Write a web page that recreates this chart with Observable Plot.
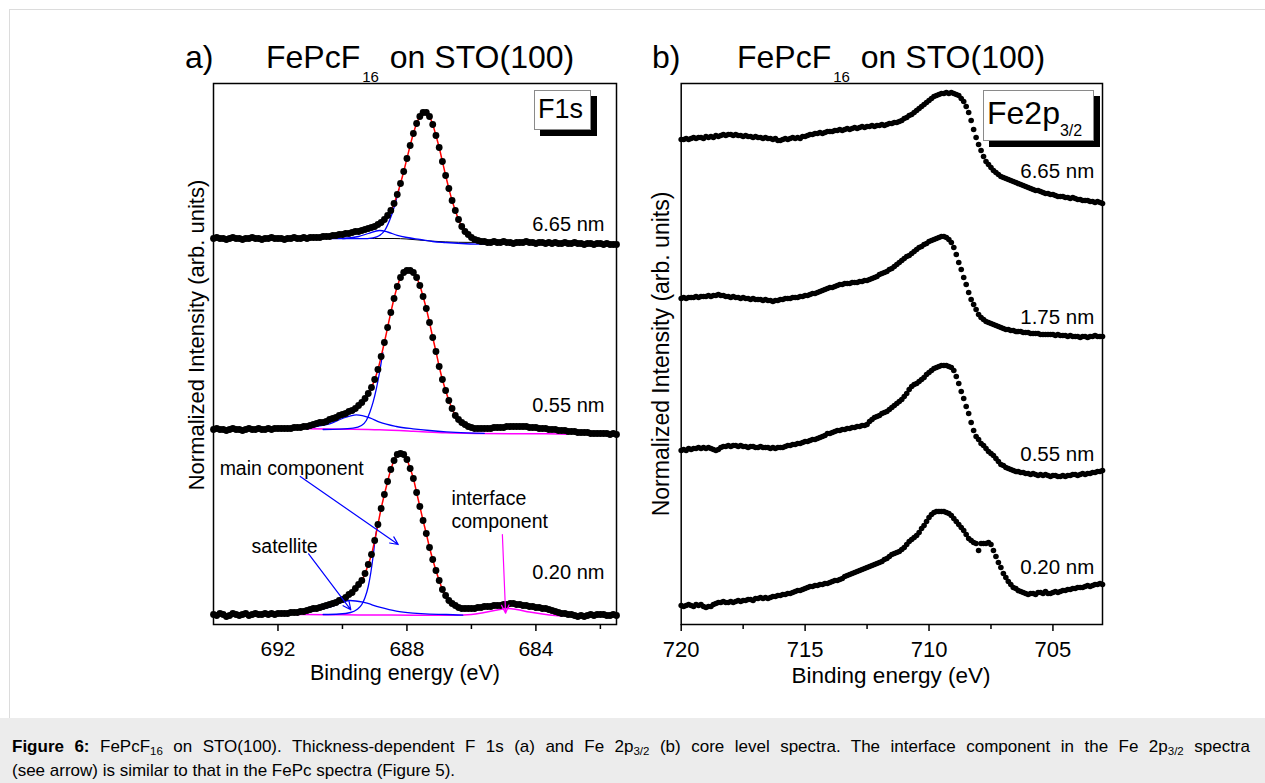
<!DOCTYPE html>
<html><head><meta charset="utf-8">
<script src="https://cdn.jsdelivr.net/npm/d3@7"></script>
<script src="https://cdn.jsdelivr.net/npm/@observablehq/plot@0.6"></script>
<style>
html,body{margin:0;padding:0;background:#fff;}
#fig{position:relative;width:1265px;height:783px;overflow:hidden;font-family:"Liberation Sans",Arial,sans-serif;color:#000;}
.abs{position:absolute;white-space:nowrap;}
.ttl{font-size:32px;line-height:32px;}
.ttl .sub{font-size:15px;position:relative;top:14px;margin:0 2px 0 2px;}
.ylab{font-size:22px;line-height:22px;transform:translate(-50%,-50%) rotate(-90deg);}
.xlab{font-size:21.5px;line-height:22px;transform:translateX(-50%);}
.box{position:absolute;background:#fff;border:1px solid #8a8a8a;box-shadow:6px 6px 0 0 #000;}
#cap{position:absolute;left:0;top:718px;width:1265px;height:65px;background:#ececec;}
#cap .l1{position:absolute;left:12px;top:17px;width:1238px;font-size:17px;line-height:24px;white-space:nowrap;text-align:justify;text-align-last:justify;}
#cap .l2{position:absolute;left:12px;top:41px;font-size:17px;line-height:24px;white-space:nowrap;}
#cap sub{font-size:11.5px;vertical-align:-3px;line-height:10px;}
#border{position:absolute;left:9px;top:9px;width:1300px;height:709px;border-left:1px solid #dcdcdc;border-top:1px solid #dcdcdc;}
</style></head>
<body><div id="fig">
<div id="border"></div>
<div class="abs ttl" style="left:185px;top:41px">a)</div>
<div class="abs ttl" style="left:266px;top:41px">FePcF<span class="sub">16</span> on STO(100)</div>
<div class="abs ttl" style="left:652px;top:41px">b)</div>
<div class="abs ttl" style="left:737px;top:41px">FePcF<span class="sub">16</span> on STO(100)</div>
<div id="pa" class="abs" style="left:150px;top:60px"></div>
<div id="pb" class="abs" style="left:640px;top:60px"></div>
<div class="abs ylab" style="left:197px;top:335px">Normalized Intensity (arb. units)</div>
<div class="abs ylab" style="left:661px;top:354px;font-size:23px">Normalized Intensity (arb. units)</div>
<div class="abs xlab" style="left:405px;top:662px">Binding energy (eV)</div>
<div class="abs xlab" style="left:891px;top:665px;font-size:22.5px">Binding energy (eV)</div>
<div class="box" style="left:534px;top:90px;width:55px;height:38px"></div>
<div class="abs" style="left:538px;top:94px;font-size:27px;line-height:30px">F1s</div>
<div class="box" style="left:983px;top:90px;width:109px;height:49px"></div>
<div class="abs" style="left:987px;top:95px;font-size:32px;line-height:36px">Fe2p<span style="font-size:16px;position:relative;top:12px">3/2</span></div>
<div id="cap">
<div class="l1"><b>Figure 6:</b> FePcF<sub>16</sub> on STO(100). Thickness-dependent F 1s (a) and Fe 2p<sub>3/2</sub> (b) core level spectra. The interface component in the Fe 2p<sub>3/2</sub> spectra</div>
<div class="l2">(see arrow) is similar to that in the FePc spectra (Figure 5).</div>
</div>
</div>
<script>
// ---------- Panel a: F 1s (binding energy grid 694.0 -> 681.5 eV, step 0.1 eV) ----------
const f1sStart = 694.0, f1sStep = 0.1;
const f1s_665 = [386,387,386,386,385,386,387,386,386,385,386,386,387,386,386,385,386,386,387,386,386,386,385,386,386,387,386,386,387,386,387,
387,387,387,388,388,388,389,389,390,390,
391,391,392,393,393,394,395,396,397,398,
400,402,405,409,414,421,430,441,453,466,
479,491,501,508,512,512,508,500,489,477,
463,449,436,424,414,405,398,393,390,387,
385,384,383,383,382,382,383,382,382,383,
382,382,381,382,382,382,383,382,382,381,
382,382,381,382,381,382,381,381,382,381,
381,382,381,381,380,381,381,380,381,381,
380,381,380,380,380];
const f1s_055 = [195,196,195,195,194,195,196,195,195,194,195,196,195,195,196,195,195,196,195,196,196,
196,196,196,196,197,197,197,198,198,199,
200,201,202,202,203,205,206,207,209,210,
211,213,214,216,219,222,226,231,237,245,
255,268,282,297,312,326,338,347,352,354,
354,352,347,339,328,316,302,287,273,258,
245,234,224,216,209,205,202,200,198,197,
196,196,196,196,196,196,197,197,197,197,
198,198,198,198,198,198,198,197,197,197,
196,196,196,195,195,195,194,194,194,193,
193,193,192,192,192,192,191,191,191,191,
191,191,190,191,190];
const f1s_020 = [10,9,11,10,8,9,11,10,9,10,
11,9,10,11,10,10,11,10,11,10,
11,11,11,11,12,12,12,13,13,14,
15,16,16,17,18,19,20,21,22,24,
25,27,30,32,36,40,44,51,60,70,
84,100,116,130,143,155,164,170,171,170,
165,156,146,132,118,104,91,77,65,54,
44,35,29,24,21,19,17,16,16,16,
16,16,17,17,18,18,18,19,19,19,
20,20,21,21,20,20,19,19,18,18,
17,17,16,16,15,14,13,12,11,11,
10,10,9,8,9,8,9,10,9,10,
10,10,9,9,10,9];
const f1sLabels = ["6.65 nm","0.55 nm","0.20 nm"];
const f1sLabelY = [400,219,52];

// fit components
const bg665E = [694,689.0,688.4,688.0,687.6,687.2,686.8,686.4,685.5,681.5];
const bg665Y = [386,386,386,385.5,384.4,383.3,382.6,382.2,382,381];
const sat665E = [690.4,690.1,689.8,689.5,689.2,688.85,688.6,688.3,688.0,687.6,687.2,686.8,686.3,685.8,685.4];
const sat665Y = [386,386,386.5,388,391,394,392.5,389.2,387,385,383,382,381,380.3,380];
const main665E = [690.0,689.4,689.05,688.85,688.69,688.54,688.38,688.25];
const main665Y = [386,385.8,386.7,389,394,404,419,435];
const sat055E = [691.1,690.9,690.4,690.0,689.57,689.15,688.85,688.33,687.81,687.3,686.78,686.16,685.6];
const sat055Y = [195.7,197.3,200.7,206,209.7,206.7,202.3,198,195.7,194,192.7,191.7,191.2];
const main055E = [690.6,690.08,689.67,689.41,689.26,689.15,689.05,688.95,688.85,688.75];
const main055Y = [195,195.3,196.3,199,204,212.3,222.3,235.7,252,272];
const int055E = [691.1,689.9,688.85,687.8,686.8,685.75,684.7,683.7,683.05];
const int055Y = [195.7,195.3,194.7,193.3,191.7,191,190.7,190.7,190.3];
const sat020E = [691.42,690.91,690.39,689.77,689.36,688.85,688.33,687.81,687.3,686.78,686.27];
const sat020Y = [10.7,13.3,17.3,24,22.3,17.3,13.3,11.3,10.3,10,9.3];
const main020E = [690.6,690.1,689.75,689.55,689.4,689.3,689.2,689.12,689.05,688.98,688.9];
const main020Y = [10,10.5,12,15,20,27,38,52,68,87,100];
const int020E = [691.42,690.5,689.5,688.5,687.5,686.5,686.0,685.6,685.2,684.9,684.6,684.2,683.8,683.4,683.18];
const int020Y = [10,9.8,9.6,9.4,9.2,9.3,10,12,14.5,16,15,12.5,10.5,9,8.5];

// annotations of panel a
const arrowsBlue = [{E1:691.31,y1:148,E2:688.27,y2:80},{E1:691.05,y1:70.7,E2:689.74,y2:14.7}];
const arrowsMag = [{E1:685.04,y1:90,E2:684.94,y2:11.3}];
const notesA = [{E:693.81,y:156,t:"main component"},{E:692.82,y:78,t:"satellite"},{E:686.62,y:126,t:"interface"},{E:686.62,y:103,t:"component"}];

// ---------- Panel b: Fe 2p3/2 (grid 720.0 -> 703.0 eV, step 0.1 eV) ----------
const fe2pStart = 720.0, fe2pStep = 0.1;
const fe_665 = [485,485,486,485,486,487,486,487,487,486,
488,487,488,487,489,488,489,490,489,490,
490,489,490,489,489,488,489,488,488,487,
488,487,487,486,487,486,486,485,486,484,
484,485,486,485,486,487,486,487,486,488,
488,489,490,490,491,491,492,491,492,493,
493,493,494,494,495,494,495,496,495,496,
497,496,497,498,497,498,498,499,498,499,
499,500,499,500,501,501,502,502,503,504,
506,507,509,510,512,514,516,518,520,522,
524,526,528,529,530,531,531,532,531,532,
531,530,529,526,523,518,512,504,495,487,
480,474,468,463,460,457,454,452,450,448,
447,446,445,444,443,442,441,440,439,438,
437,436,435,434,434,433,432,431,431,430,
430,429,428,428,428,427,427,426,427,426,
425,425,424,424,424,423,423,422,423,422,
421];
const fe_175 = [326,327,326,327,327,327,328,327,328,328,
328,329,328,329,329,330,329,329,328,328,
327,328,327,327,326,327,326,326,325,326,
325,325,325,324,325,324,324,323,324,324,
325,325,326,326,326,327,327,327,328,328,
329,329,330,331,331,332,333,334,335,336,
337,337,338,339,340,340,341,341,341,342,
342,342,343,343,344,344,345,346,347,348,
350,351,352,353,355,356,358,360,362,364,
366,368,369,371,373,375,377,378,380,381,
383,384,385,386,387,388,388,387,385,382,
377,370,362,355,347,340,332,325,320,315,
310,307,305,303,302,301,300,299,298,297,
296,295,295,294,294,293,293,293,292,292,
292,291,291,291,291,290,290,290,290,290,
290,289,290,289,289,289,288,289,288,288,
288,287,288,288,287,288,288,289,288,288,
288];
const fe_055 = [174,175,174,176,175,176,176,177,176,177,
176,177,176,175,174,175,177,178,178,179,
178,179,179,178,179,178,178,177,178,178,
177,177,178,177,177,177,176,177,176,177,
177,177,178,179,179,180,180,181,181,182,
183,183,184,185,185,186,187,188,189,191,
191,192,193,194,194,195,195,196,196,197,
197,198,198,199,199,200,203,205,207,208,
209,211,212,213,215,217,219,221,223,225,
228,231,235,238,240,241,243,245,247,250,
252,254,256,257,258,259,259,259,258,257,
254,248,241,233,226,218,211,202,194,188,
185,181,179,176,173,171,169,166,163,160,
159,157,156,155,154,153,153,152,152,151,
151,150,151,150,149,150,149,150,149,148,
149,149,148,148,149,148,149,149,150,150,
149,150,151,150,151,151,152,152,153,153,
154];
const fe_020 = [19,18,19,20,19,18,20,19,20,18,
17,18,18,20,21,22,22,23,22,22,
23,22,23,24,23,24,24,25,25,24,
26,26,27,26,27,26,27,28,28,29,
29,30,30,31,31,32,33,34,34,35,
36,37,38,38,39,39,40,40,41,41,
42,43,44,44,45,46,48,49,50,51,
52,53,54,55,56,57,58,59,60,61,
62,63,65,66,68,70,71,72,73,75,
77,80,83,85,87,89,92,96,99,103,
107,110,112,113,113,113,113,112,111,109,
106,103,100,97,94,90,86,84,82,81,
74,81,81,81,82,80,74,68,62,57,
51,47,43,40,37,36,34,33,32,31,
30,31,31,30,32,32,31,33,31,31,
32,33,32,33,34,34,35,35,36,36,
37,37,37,38,39,38,39,40,40,41,
40];
const feLabels = ["6.65 nm","1.75 nm","0.55 nm","0.20 nm"];
const feLabelY = [453,307,170,57];

// ---------- build tables ----------
const rowsOf = (arr, start, step, s) => arr.map((v,i) => ({E: +(start - i*step).toFixed(2), y: v, s}));
const pts = (E, Y) => E.map((e,i) => ({E: e, y: Y[i]}));
const rowsA = [...rowsOf(f1s_665,f1sStart,f1sStep,"6.65"),...rowsOf(f1s_055,f1sStart,f1sStep,"0.55"),...rowsOf(f1s_020,f1sStart,f1sStep,"0.20")];
const fitRange = {"6.65":[689.2,685.8],"0.55":[689.6,685.6],"0.20":[690.0,683.2]};
const redA = rowsA.filter(d => d.E <= fitRange[d.s][0] && d.E >= fitRange[d.s][1]);
const rowsB = [...rowsOf(fe_665,fe2pStart,fe2pStep,"6.65"),...rowsOf(fe_175,fe2pStart,fe2pStep,"1.75"),...rowsOf(fe_055,fe2pStart,fe2pStep,"0.55"),...rowsOf(fe_020,fe2pStart,fe2pStep,"0.20")];

const FONT = "Liberation Sans, Arial, sans-serif";
const BLUE = "#0000ff", MAG = "#ff00ff", RED = "#ff0000";
const lineOpt = (c, w=1.3) => ({x:"E", y:"y", stroke:c, strokeWidth:w, curve:"monotone-x"});

const pa = Plot.plot({
  width: 480, height: 604,
  marginLeft: 63, marginRight: 14, marginTop: 23, marginBottom: 40,
  style: {fontFamily: FONT, background: "transparent", overflow: "visible"},
  x: {domain: [694, 681.5], label: null},
  y: {domain: [0, 541], axis: null},
  marks: [
    Plot.line(pts(bg665E,bg665Y), lineOpt("#000", 1)),
    Plot.line(pts(int055E,int055Y), lineOpt(MAG, 1.5)),
    Plot.line(pts(int020E,int020Y), lineOpt(MAG, 1.5)),
    Plot.line(pts(sat665E,sat665Y), lineOpt(BLUE)),
    Plot.line(pts(main665E,main665Y), lineOpt(BLUE)),
    Plot.line(pts(sat055E,sat055Y), lineOpt(BLUE)),
    Plot.line(pts(main055E,main055Y), lineOpt(BLUE)),
    Plot.line(pts(sat020E,sat020Y), lineOpt(BLUE)),
    Plot.line(pts(main020E,main020Y), lineOpt(BLUE)),
    Plot.line(redA, {x:"E", y:"y", z:"s", stroke:RED, strokeWidth:1.5, curve:"monotone-x"}),
    Plot.dot(rowsA, {x:"E", y:"y", r:3.4, fill:"#000", stroke:null}),
    Plot.arrow(arrowsBlue, {x1:"E1", y1:"y1", x2:"E2", y2:"y2", stroke:BLUE, strokeWidth:1.2, headLength:11, headAngle:50}),
    Plot.arrow(arrowsMag, {x1:"E1", y1:"y1", x2:"E2", y2:"y2", stroke:MAG, strokeWidth:1.2, headLength:11, headAngle:50}),
    Plot.text(notesA, {x:"E", y:"y", text:"t", textAnchor:"start", fontSize:19.5, fill:"#000"}),
    Plot.text(f1sLabels.map((t,i)=>({t, y:f1sLabelY[i]})), {x:() => 681.875, y:"y", text:"t", textAnchor:"end", fontSize:20, fill:"#000"}),
    Plot.axisX({ticks:[690,686,682], tickSize:5, tickFormat:() => "", strokeWidth:1.5, label:null}),
    Plot.axisX({ticks:[692,688,684], tickSize:7, tickPadding:10, fontSize:21, strokeWidth:1.5, label:null}),
    Plot.frame({stroke:"#000", strokeWidth:1.5})
  ]
});
document.getElementById("pa").appendChild(pa);

const pb = Plot.plot({
  width: 480, height: 604,
  marginLeft: 40.7, marginRight: 18, marginTop: 23, marginBottom: 40,
  style: {fontFamily: FONT, background: "transparent", overflow: "visible"},
  x: {domain: [720, 703], label: null},
  y: {domain: [0, 541], axis: null},
  marks: [
    Plot.dot(rowsB, {x:"E", y:"y", r:2.8, fill:"#000", stroke:null}),
    Plot.text(feLabels.map((t,i)=>({t, y:feLabelY[i]})), {x:() => 703.33, y:"y", text:"t", textAnchor:"end", fontSize:20.5, fill:"#000"}),
    Plot.axisX({ticks:[717.5,712.5,707.5], tickSize:5, tickFormat:() => "", strokeWidth:1.5, label:null}),
    Plot.axisX({ticks:[720,715,710,705], tickSize:7, tickPadding:10, fontSize:22, strokeWidth:1.5, label:null}),
    Plot.frame({stroke:"#000", strokeWidth:1.5})
  ]
});
document.getElementById("pb").appendChild(pb);
</script>
</body></html>
